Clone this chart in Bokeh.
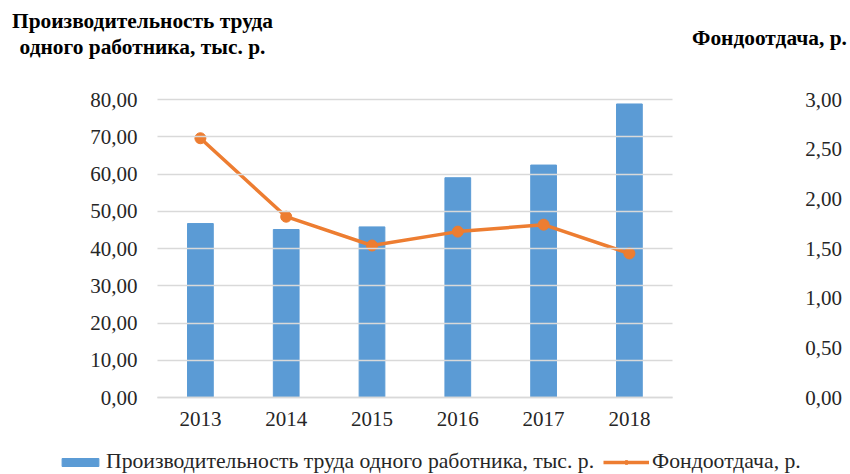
from bokeh.plotting import figure
from bokeh.models import (Range1d, LinearAxis, FixedTicker, Legend, LegendItem,
                          ColumnDataSource, Label)
from bokeh.embed import file_html
from bokeh.resources import INLINE

years = ["2013", "2014", "2015", "2016", "2017", "2018"]
productivity = [46.7, 45.1, 45.8, 59.0, 62.4, 78.8]
capital_productivity = [2.61, 1.82, 1.53, 1.67, 1.74, 1.45]
left_ticks = [0, 10, 20, 30, 40, 50, 60, 70, 80]
right_ticks = [0, 0.5, 1.0, 1.5, 2.0, 2.5, 3.0]
bar_name = "Производительность труда одного работника, тыс. р."
line_name = "Фондоотдача, р."
left_title = ["Производительность труда", "одного работника, тыс. р."]
right_title = "Фондоотдача, р."

FONT = "Liberation Serif"
BLUE = "#5B9BD5"
ORANGE = "#ED7D31"
GRID = "#D9D9D9"
TXT = "#262626"
FS = "21px"

pos = list(range(len(years)))
src = ColumnDataSource(dict(x=pos, prod=productivity, cap=capital_productivity))

# The frame fills the canvas; axes are pinned inside it so that titles and legend are not clipped.
W, H = 850, 474
PX_X = 85.8          # pixels per category
X0 = 199.9           # pixel of the first category centre
Y_TOP, Y_BOT = 99, 397
ppu_l = (Y_BOT - Y_TOP) / left_ticks[-1]
ppu_r = (Y_BOT - Y_TOP) / right_ticks[-1]

p = figure(width=W, height=H,
           x_range=Range1d(-X0 / PX_X, (W - X0) / PX_X),
           y_range=Range1d(-(H - Y_BOT) / ppu_l, left_ticks[-1] + Y_TOP / ppu_l),
           output_backend="svg", toolbar_location=None, min_border=0,
           x_axis_location=None, y_axis_location=None)
p.extra_y_ranges = {"right": Range1d(-(H - Y_BOT) / ppu_r, right_ticks[-1] + Y_TOP / ppu_r)}
p.outline_line_color = None
p.background_fill_color = None
p.grid.visible = False

lo, hi = pos[0] - 0.5, pos[-1] + 0.5
frame_w = (hi - lo) * PX_X

def style(ax):
    ax.major_tick_out = 0
    ax.major_tick_in = 0
    ax.minor_tick_out = 0
    ax.minor_tick_in = 0
    ax.major_label_text_font = FONT
    ax.major_label_text_font_size = FS
    ax.major_label_text_color = TXT

# left axis: its inward ticks span the plot area and act as the horizontal gridlines
ya = LinearAxis(ticker=FixedTicker(ticks=left_ticks), fixed_location=lo,
                bounds=(left_ticks[0], left_ticks[-1]))
style(ya)
ya.axis_line_color = None
ya.major_tick_in = int(round(frame_w))
ya.major_tick_line_color = GRID
ya.major_tick_line_width = 1.3
ya.major_label_overrides = {t: f"{t:.2f}".replace(".", ",") for t in left_ticks}
ya.major_label_standoff = 20
p.add_layout(ya, "left")

xa = LinearAxis(ticker=FixedTicker(ticks=pos), fixed_location=0, bounds=(lo, hi))
style(xa)
xa.major_label_overrides = dict(zip(pos, years))
xa.axis_line_color = GRID
xa.axis_line_width = 1.3
xa.major_label_standoff = 14
p.add_layout(xa, "below")

ra = LinearAxis(y_range_name="right", ticker=FixedTicker(ticks=right_ticks), fixed_location=hi,
                bounds=(right_ticks[0], right_ticks[-1]))
style(ra)
ra.axis_line_color = None
ra.major_label_overrides = {t: f"{t:.2f}".replace(".", ",") for t in right_ticks}
ra.major_label_standoff = 133
ra.major_label_text_align = "left"
p.add_layout(ra, "right")

bars = p.vbar(x="x", top="prod", width=0.3, source=src, color=BLUE)
ln = p.line(x="x", y="cap", source=src, y_range_name="right", line_color=ORANGE, line_width=3.5)
mk = p.scatter(x="x", y="cap", source=src, y_range_name="right", size=11,
               fill_color=ORANGE, line_color=ORANGE)

legend = Legend(items=[LegendItem(label=bar_name, renderers=[bars]),
                       LegendItem(label=line_name, renderers=[ln, mk])],
                orientation="horizontal", location=(57, 0),
                glyph_width=46, glyph_height=10, label_standoff=3, spacing=9,
                padding=0, margin=0, border_line_color=None, background_fill_alpha=0,
                label_text_font=FONT, label_text_font_size="21.7px", label_text_color=TXT)
p.add_layout(legend, "center")

def px_to_x(px):
    return (px - X0) / PX_X

def px_to_y(py):
    return (Y_BOT - py) / ppu_l

for t, cy in zip(left_title, [20, 46]):
    p.add_layout(Label(x=px_to_x(142), y=px_to_y(cy), text=t, text_font=FONT, text_font_size="21.4px",
                       text_font_style="bold", text_align="center", text_baseline="middle",
                       text_color="#000000"))
p.add_layout(Label(x=px_to_x(769), y=px_to_y(37), text=right_title, text_font=FONT,
                   text_font_size="21.4px", text_font_style="bold", text_align="center",
                   text_baseline="middle", text_color="#000000"))

open("out.html", "w").write(file_html(p, INLINE))
